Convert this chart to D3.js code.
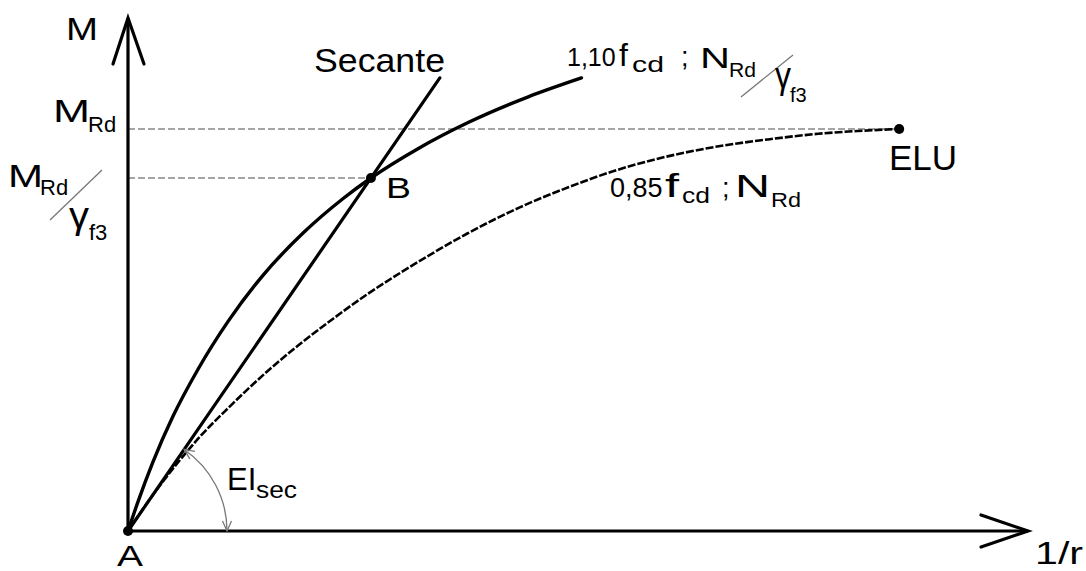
<!DOCTYPE html>
<html><head><meta charset="utf-8">
<script src="https://cdn.jsdelivr.net/npm/d3@7"></script>
<style>
body{margin:0;background:#fff}
text{font-family:"Liberation Sans",Arial,Helvetica,sans-serif;fill:#000}
</style>
</head><body>
<svg id="c" width="1086" height="571"></svg>
<script>
// ---- data (curvature 1/r normalised to ELU, moment normalised to M_Rd) ----
const curve110x = [0, 0.013, 0.032, 0.058, 0.091, 0.130, 0.175, 0.227, 0.279, 0.315, 0.376, 0.441, 0.519, 0.588];
const curve110y = [0, 0.073, 0.170, 0.284, 0.403, 0.522, 0.636, 0.741, 0.827, 0.878, 0.951, 1.016, 1.080, 1.127];
const curve085x = [0, 0.032, 0.065, 0.093, 0.130, 0.180, 0.223, 0.266, 0.311, 0.353, 0.396, 0.440, 0.508, 0.571, 0.626, 0.687, 0.760, 0.830, 0.895, 0.947, 1.000];
const curve085y = [0, 0.089, 0.171, 0.234, 0.306, 0.396, 0.465, 0.528, 0.590, 0.642, 0.692, 0.740, 0.805, 0.855, 0.893, 0.926, 0.955, 0.974, 0.988, 0.995, 1.000];
const pointB = [0.315, 0.878];
const pointELU = [1.000, 1.000];
const pointA = [0, 0];
const mRd = 1.000;
const mRdGamma = 0.878;
const secantTopY = 1.127;
const xMax = 1.167, yMax = 1.276;

const svg = d3.select("#c");
const x = d3.scaleLinear().domain([0, xMax]).range([128, 1028]);
const y = d3.scaleLinear().domain([0, yMax]).range([531, 18]);

// dashed reference lines
svg.append("line").attr("x1", x(0)).attr("x2", x(pointELU[0])).attr("y1", y(mRd)).attr("y2", y(mRd))
  .attr("stroke", "#888").attr("stroke-width", 1.4).attr("stroke-dasharray", "7,3");
svg.append("line").attr("x1", x(0)).attr("x2", x(pointB[0])).attr("y1", y(mRdGamma)).attr("y2", y(mRdGamma))
  .attr("stroke", "#888").attr("stroke-width", 1.4).attr("stroke-dasharray", "7,3");

const line = d3.line().x(d => x(d[0])).y(d => y(d[1])).curve(d3.curveMonotoneX);
const c110 = curve110x.map((v, i) => [v, curve110y[i]]);
const c085 = curve085x.map((v, i) => [v, curve085y[i]]);

svg.append("path").attr("d", line(c085)).attr("fill", "none").attr("stroke", "#000")
  .attr("stroke-width", 2.6).attr("stroke-dasharray", "8,2");
svg.append("path").attr("d", line(c110)).attr("fill", "none").attr("stroke", "#000")
  .attr("stroke-width", 3.4).attr("stroke-linecap", "round");

// secant
const secX = secantTopY * pointB[0] / pointB[1];
svg.append("line").attr("x1", x(0)).attr("y1", y(0)).attr("x2", x(secX)).attr("y2", y(secantTopY))
  .attr("stroke", "#000").attr("stroke-width", 3.2).attr("stroke-linecap", "round");

// axes
svg.append("line").attr("x1", x(0)).attr("y1", y(0)).attr("x2", x(xMax)).attr("y2", y(0))
  .attr("stroke", "#000").attr("stroke-width", 3.2);
svg.append("line").attr("x1", x(0)).attr("y1", y(0)).attr("x2", x(0)).attr("y2", y(yMax))
  .attr("stroke", "#000").attr("stroke-width", 3.2);
svg.append("polyline").attr("points", [[x(xMax) - 47, y(0) - 16], [x(xMax), y(0)], [x(xMax) - 47, y(0) + 16]].join(" "))
  .attr("fill", "none").attr("stroke", "#000").attr("stroke-width", 3.2).attr("stroke-linecap", "round");
svg.append("polyline").attr("points", [[x(0) - 15, y(yMax) + 46], [x(0), y(yMax)], [x(0) + 16, y(yMax) + 46]].join(" "))
  .attr("fill", "none").attr("stroke", "#000").attr("stroke-width", 3.2).attr("stroke-linecap", "round");

// angle arc EI_sec
const r = 99;
const th = Math.atan2(y(0) - y(pointB[1]), x(pointB[0]) - x(0));
const cx = x(0), cy = y(0);
const p0 = [cx + r, cy], p1 = [cx + r * Math.cos(th), cy - r * Math.sin(th)];
svg.append("path").attr("d", `M${p0[0]},${p0[1]} A${r},${r} 0 0 0 ${p1[0]},${p1[1]}`)
  .attr("fill", "none").attr("stroke", "#777").attr("stroke-width", 1.3);
function arrowHead(t, d) {
  const L = 10, W = 4.5, n = [-d[1], d[0]];
  svg.append("polyline").attr("points", [
    [t[0] - L * d[0] + W * n[0], t[1] - L * d[1] + W * n[1]], t,
    [t[0] - L * d[0] - W * n[0], t[1] - L * d[1] - W * n[1]]].join(" "))
    .attr("fill", "none").attr("stroke", "#777").attr("stroke-width", 1.3);
}
arrowHead(p0, [0, 1]);
arrowHead(p1, [-Math.sin(th), -Math.cos(th)]);

// points
[pointA, pointB, pointELU].forEach(p => svg.append("circle").attr("cx", x(p[0])).attr("cy", y(p[1])).attr("r", 5).attr("fill", "#000"));

// text
function t(str, px, py, size, len) {
  const e = svg.append("text").attr("x", px).attr("y", py).attr("font-size", size).text(str);
  if (len) e.attr("textLength", len).attr("lengthAdjust", "spacingAndGlyphs");
  return e;
}
function slash(x1, y1, x2, y2) {
  svg.append("line").attr("x1", x1).attr("y1", y1).attr("x2", x2).attr("y2", y2).attr("stroke", "#777").attr("stroke-width", 1.3);
}
t("M", 66, 40, 31, 32);
t("M", 53, 122, 32, 37); t("Rd", 88, 132, 22);
t("M", 8, 187, 32, 35); t("Rd", 40, 195, 22);
slash(50, 220, 102, 170);
t("γ", 69, 228, 36, 20); t("f3", 89, 240, 22);
t("Secante", 314, 72, 34, 131);
t("1,10", 567, 66, 25); t("f", 619, 66, 32); t("cd", 632, 72, 22, 32); t(";", 681, 66, 27);
t("N", 700, 68, 30, 30); t("Rd", 729, 77, 20, 27);
slash(741, 97, 793, 55);
t("γ", 775, 88, 36, 16); t("f3", 790, 102, 20);
t("0,85", 610, 197, 27); t("f", 665, 197, 33, 14); t("cd", 682, 203, 22, 28); t(";", 722, 197, 27);
t("N", 735, 197, 32, 35); t("Rd", 771, 207, 21, 30);
t("B", 386, 198, 30, 25);
t("ELU", 889, 170, 35);
t("A", 117, 566, 29, 26);
t("EI", 227, 490, 31); t("sec", 256, 498, 24, 41);
t("1/r", 1035, 564, 32, 48);
</script>
</body></html>
